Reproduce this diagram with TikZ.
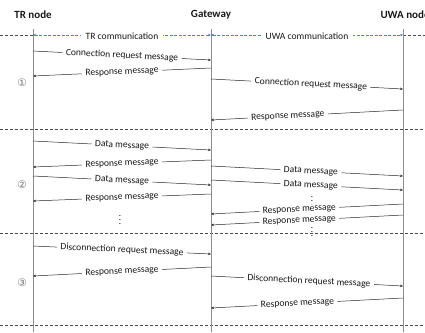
\documentclass[tikz,border=0pt]{standalone}
\usepackage{fontspec}
\setmainfont{Carlito}
\newfontfamily\dejavu{DejaVu Sans}
\usetikzlibrary{arrows.meta}
\begin{document}
\begin{tikzpicture}[x=1pt,y=-1pt,
  msg/.style={draw=black!85, line width=0.5pt, -{Stealth[length=3pt,width=2.4pt]}},
  lbl/.style={fill=white, inner xsep=3.5pt, inner ysep=0.5pt, text=black!90, font=\fontsize{9.6}{10}\selectfont, sloped},
  life/.style={draw=black!45, line width=0.6pt},
  sepline/.style={draw=black!70, dash pattern=on 3pt off 2pt, line width=0.6pt},
  comm/.style={draw={rgb,255:red,79;green,129;blue,189}, dash pattern=on 3pt off 1.5pt, line width=0.8pt, {Stealth[length=3pt,width=2.6pt]}-{Stealth[length=3pt,width=2.6pt]}},
  commlbl/.style={fill=white, inner xsep=5pt, inner ysep=1pt, text=black!90, font=\fontsize{9.6}{10}\selectfont},
  title/.style={font=\fontsize{11}{12}\selectfont\bfseries, text=black!90},
  phase/.style={font=\dejavu\fontsize{10.5}{11}\selectfont, text=black!55},
  dots/.style={font=\fontsize{9}{10}\selectfont, inner sep=0pt}
]
\useasboundingbox (0,0) rectangle (425,332);
% titles
\node[title] (ttr) at (33,15) {TR node};
\node[title] (tgw) at (211,15) {Gateway};
\node[title, anchor=west] (tuwa) at (377,15) {UWA node};
% lifeline coordinates
\coordinate (trT) at (33,29);   \coordinate (trB) at (33,332);
\coordinate (gwT) at (211,29);  \coordinate (gwB) at (211,332);
\coordinate (uwT) at (403,29);  \coordinate (uwB) at (403,332);
% separators
\coordinate (s0L) at (0,35);   \coordinate (s0a) at (33,35); \coordinate (s0b) at (211,35); \coordinate (s0c) at (403,35); \coordinate (s0R) at (425,35);
\coordinate (s1L) at (0,129);  \coordinate (s1R) at (425,129);
\coordinate (s2L) at (0,233);  \coordinate (s2R) at (425,233);
\coordinate (s3L) at (0,325);  \coordinate (s3R) at (425,325);
\draw[sepline] (s0L) -- (s0a);
\draw[sepline] (s0c) -- (s0R);
\draw[sepline] (s1L) -- (s1R);
\draw[sepline] (s2L) -- (s2R);
\draw[sepline] (s3L) -- (s3R);
\draw[life] (trT) -- (trB);
\draw[life] (gwT) -- (gwB);
\draw[life] (uwT) -- (uwB);
\draw[comm] (s0a) -- node[commlbl, yshift=-1pt] (ctr) {TR communication} (s0b);
\draw[comm] (s0b) -- node[commlbl, yshift=-1pt] (cuwa) {UWA communication} (s0c);
% phase markers
\node[phase] (p1) at (22,83) {①};
\node[phase] (p2) at (22,185) {②};
\node[phase] (p3) at (22,283) {③};
% phase 1
\coordinate (a1) at (33,51);  \coordinate (b1) at (211,60);
\coordinate (a2) at (211,68); \coordinate (b2) at (33,76);
\coordinate (a3) at (211,79); \coordinate (b3) at (403,89);
\coordinate (a4) at (403,110);\coordinate (b4) at (211,120);
\draw[msg] (a1) -- node[lbl,pos=0.5] (m1) {Connection request message} (b1);
\draw[msg] (a2) -- node[lbl,pos=0.5] (m2) {Response message} (b2);
\draw[msg] (a3) -- node[lbl,pos=0.52] (m3) {Connection request message} (b3);
\draw[msg] (a4) -- node[lbl,pos=0.6] (m4) {Response message} (b4);
% phase 2
\coordinate (c1) at (33,141);  \coordinate (d1) at (211,150);
\coordinate (c2) at (211,160); \coordinate (d2) at (33,167);
\coordinate (c3) at (211,166); \coordinate (d3) at (403,176);
\coordinate (c4) at (33,176);  \coordinate (d4) at (211,185);
\coordinate (c5) at (211,180); \coordinate (d5) at (403,190);
\coordinate (c6) at (211,194); \coordinate (d6) at (33,201);
\coordinate (c7) at (403,204); \coordinate (d7) at (211,214);
\coordinate (c8) at (403,215); \coordinate (d8) at (211,225);
\draw[msg] (c1) -- node[lbl,pos=0.5] (n1) {Data message} (d1);
\draw[msg] (c2) -- node[lbl,pos=0.5] (n2) {Response message} (d2);
\draw[msg] (c3) -- node[lbl,pos=0.52] (n3) {Data message} (d3);
\draw[msg] (c4) -- node[lbl,pos=0.5] (n4) {Data message} (d4);
\draw[msg] (c5) -- node[lbl,pos=0.52] (n5) {Data message} (d5);
\draw[msg] (c6) -- node[lbl,pos=0.5] (n6) {Response message} (d6);
\node[dots] (v2) at (312,198) {\vdots};
\draw[msg] (c7) -- node[lbl,pos=0.54] (n7) {Response message} (d7);
\draw[msg] (c8) -- node[lbl,pos=0.54] (n8) {Response message} (d8);
\node[dots] (v1) at (120,217) {\vdots};
\node[dots] (v3) at (312,229) {\vdots};
% phase 3
\coordinate (e1) at (33,246);  \coordinate (f1) at (211,254);
\coordinate (e2) at (211,267); \coordinate (f2) at (33,276);
\coordinate (e3) at (211,276); \coordinate (f3) at (403,286);
\coordinate (e4) at (403,298); \coordinate (f4) at (211,308);
\draw[msg] (e1) -- node[lbl,pos=0.5] (o1) {Disconnection request message} (f1);
\draw[msg] (e2) -- node[lbl,pos=0.5] (o2) {Response message} (f2);
\draw[msg] (e3) -- node[lbl,pos=0.51] (o3) {Disconnection request message} (f3);
\draw[msg] (e4) -- node[lbl,pos=0.55] (o4) {Response message} (f4);
\end{tikzpicture}
\end{document}
